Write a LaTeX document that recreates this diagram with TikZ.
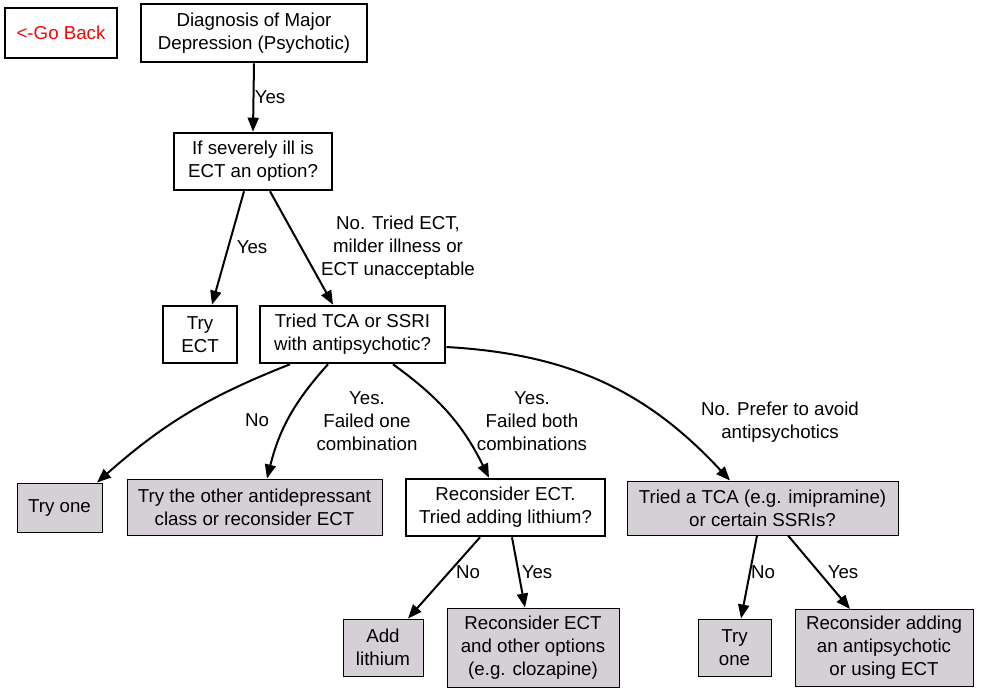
\documentclass[tikz,border=0pt]{standalone}
\usepackage{fontspec}
\setmainfont{Liberation Sans}
\usetikzlibrary{arrows.meta}
\definecolor{boxgrey}{RGB}{212,208,214}
\newcommand\chartfont{\fontsize{18.7}{23}\selectfont}
\tikzset{
  decision/.style={draw=black, line width=2.6pt, fill=white, align=center,
    inner sep=0pt, font=\chartfont},
  outcome/.style={draw=black, line width=1pt, fill=boxgrey, align=center,
    inner sep=0pt, font=\chartfont},
  flow/.style={line width=2pt, -{Triangle[length=14pt,width=11pt]}},
  lbl/.style={align=center, inner sep=0pt, font=\chartfont}
}
\begin{document}
\begin{tikzpicture}[x=1pt,y=-1pt]
\useasboundingbox (0,0) rectangle (981,693);
\fill[white] (0,0) rectangle (981,693);

% boxes
\node[decision, minimum width=112, minimum height=50, text=red] (back) at (61,33) {<-Go Back};
\node[decision, minimum width=226, minimum height=58] (diag) at (254,33) {Diagnosis of Major\\Depression (Psychotic)};
\node[decision, minimum width=158, minimum height=57] (ectq) at (253,161.5) {If severely ill is\\ECT an option?};
\node[decision, minimum width=74, minimum height=57] (tryect) at (200,334.5) {Try\\ECT};
\node[decision, minimum width=185, minimum height=57] (tca) at (352.5,334.5) {Tried TCA or SSRI\\with antipsychotic?};
\node[outcome, minimum width=85, minimum height=49] (tryone) at (59.5,507.5) {Try one};
\node[outcome, minimum width=255, minimum height=56] (other) at (254.5,507) {Try the other antidepressant\\class or reconsider ECT};
\node[decision, minimum width=199, minimum height=57] (recect) at (505.5,507.5) {Reconsider ECT.\\Tried adding lithium?};
\node[outcome, minimum width=271, minimum height=54] (tcaq) at (762.5,508) {Tried a TCA (e.g. imipramine)\\or certain SSRIs?};
\node[outcome, minimum width=80, minimum height=57] (addli) at (383,647.5) {Add\\lithium};
\node[outcome, minimum width=172, minimum height=79] (recother) at (533,647.5) {Reconsider ECT\\and other options\\(e.g. clozapine)};
\node[outcome, minimum width=73, minimum height=57] (trytwo) at (734.5,647.5) {Try\\one};
\node[outcome, minimum width=178, minimum height=77] (recadd) at (884,648) {Reconsider adding\\an antipsychotic\\or using ECT};

% connectors
\draw[flow] (diag.south) -- (ectq.north);
\draw[flow] ([xshift=-9pt]ectq.south) -- ([xshift=12pt]tryect.north);
\draw[flow] ([xshift=17pt]ectq.south) -- ([xshift=-19.5pt]tca.north);
\draw[flow] ([xshift=-62.5pt]tca.south) to[bend right=10] ([xshift=37.5pt]tryone.north);
\draw[flow] ([xshift=-24.5pt]tca.south) to[bend right=14] ([xshift=12.5pt]other.north);
\draw[flow] ([xshift=40.5pt]tca.south) to[bend left=14] ([xshift=-16.5pt]recect.north);
\draw[flow] ([yshift=-12.5pt]tca.east) to[bend left=22] ([xshift=-32.5pt]tcaq.north);
\draw[flow] ([xshift=-25.5pt]recect.south) -- ([xshift=25pt]addli.north);
\draw[flow] ([xshift=6.5pt]recect.south) -- ([xshift=-8pt]recother.north);
\draw[flow] ([xshift=-5.5pt]tcaq.south) -- ([xshift=6.5pt]trytwo.north);
\draw[flow] ([xshift=25.5pt]tcaq.south) -- ([xshift=-34pt]recadd.north);

% connector labels
\node[lbl] (l1) at (270,97) {Yes};
\node[lbl] (l2) at (252,247) {Yes};
\node[lbl] (l3) at (398,248) {No. Tried ECT,\\milder illness or\\ECT unacceptable};
\node[lbl] (l4) at (257,420) {No};
\node[lbl] (l5) at (367,421) {Yes.\\Failed one\\combination};
\node[lbl] (l6) at (532,421) {Yes.\\Failed both\\combinations};
\node[lbl] (l7) at (780,422) {No. Prefer to avoid\\antipsychotics};
\node[lbl] (l8) at (468,572) {No};
\node[lbl] (l9) at (537,572) {Yes};
\node[lbl] (l10) at (763,572) {No};
\node[lbl] (l11) at (843,572) {Yes};
\end{tikzpicture}
\end{document}
